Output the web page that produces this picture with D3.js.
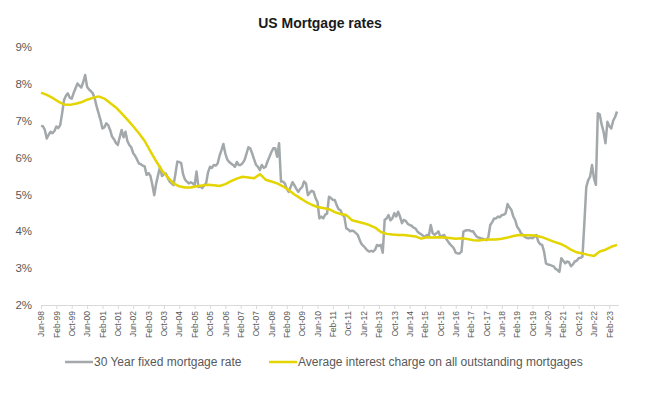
<!DOCTYPE html>
<html>
<head>
<meta charset="utf-8">
<script src="https://cdn.jsdelivr.net/npm/d3@7"></script>
<style>
  html, body { margin: 0; padding: 0; background: #fff; }
  svg { display: block; font-family: "Liberation Sans", Arial, sans-serif; }
</style>
</head>
<body>
<svg id="chart" width="650" height="396"></svg>
<script>
// ---- Data ----
const chartTitle = "US Mortgage rates";
const startMonth = new Date(1998, 5, 1);   // Jun-98
const endMonth = new Date(2023, 6, 1);     // exclusive (last = Jun-23)
const seriesNames = ["30 Year fixed mortgage rate", "Average interest charge on all outstanding mortgages"];
const yTicks = [2, 3, 4, 5, 6, 7, 8, 9];

// 30 Year fixed mortgage rate, monthly from Jun-98 (%)
const fixedRate = [
  6.86, 6.85, 6.75, 6.52, 6.62, 6.70, 6.66, 6.72, 6.84, 6.80,
  6.88, 7.20, 7.56, 7.68, 7.74, 7.62, 7.60, 7.75, 7.88, 8.01,
  7.95, 7.90, 8.05, 8.24, 7.92, 7.85, 7.80, 7.74, 7.60, 7.38,
  7.20, 7.02, 6.79, 6.82, 6.93, 6.88, 6.75, 6.57, 6.50, 6.40,
  6.34, 6.55, 6.75, 6.55, 6.70, 6.45, 6.34, 6.28, 6.12, 6.05,
  5.95, 5.84, 5.82, 5.78, 5.76, 5.53, 5.58, 5.50, 5.26, 4.98,
  5.30, 5.53, 5.75, 5.50, 5.55, 5.57, 5.45, 5.35, 5.30, 5.25,
  5.55, 5.89, 5.88, 5.85, 5.55, 5.40, 5.35, 5.30, 5.33, 5.30,
  5.25, 5.62, 5.20, 5.22, 5.17, 5.25, 5.30, 5.60, 5.75, 5.72,
  5.80, 5.78, 5.84, 6.05, 6.20, 6.37, 6.11, 5.95, 5.88, 5.84,
  5.80, 5.75, 5.88, 5.80, 5.80, 5.85, 5.93, 6.10, 6.28, 6.25,
  6.11, 5.95, 5.80, 5.75, 5.66, 5.80, 5.72, 5.75, 5.90, 6.02,
  6.15, 6.25, 6.25, 6.02, 6.39, 5.35, 5.35, 5.30, 5.15, 5.07,
  5.20, 5.33, 5.25, 5.15, 5.07, 5.15, 5.20, 5.35, 5.30, 4.98,
  5.05, 5.10, 5.07, 4.90, 4.80, 4.35, 4.40, 4.35, 4.45, 4.48,
  4.94, 4.90, 4.85, 4.85, 4.71, 4.60, 4.57, 4.45, 4.39, 4.08,
  4.05, 4.00, 4.02, 4.00, 3.95, 3.90, 3.76, 3.65, 3.60, 3.54,
  3.48, 3.45, 3.47, 3.45, 3.50, 3.63, 3.60, 3.63, 3.42, 4.31,
  4.35, 4.44, 4.30, 4.35, 4.49, 4.40, 4.53, 4.40, 4.22, 4.31,
  4.28, 4.20, 4.17, 4.15, 4.10, 4.08, 4.00, 3.95, 3.92, 3.88,
  3.85, 3.90, 3.88, 4.17, 3.95, 3.90, 3.95, 4.00, 3.85, 3.88,
  3.90, 3.80, 3.72, 3.65, 3.60, 3.54, 3.42, 3.40, 3.40, 3.45,
  3.99, 4.02, 4.03, 4.03, 4.00, 4.00, 3.92, 3.85, 3.83, 3.81,
  3.80, 3.78, 3.76, 3.85, 4.17, 4.25, 4.35, 4.35, 4.40, 4.38,
  4.44, 4.45, 4.49, 4.74, 4.65, 4.58, 4.40, 4.30, 4.12, 4.05,
  3.95, 3.90, 3.85, 3.82, 3.81, 3.83, 3.81, 3.85, 3.90, 3.72,
  3.65, 3.63, 3.45, 3.13, 3.10, 3.09, 3.07, 3.05, 2.98, 2.95,
  2.90, 3.27, 3.20, 3.13, 3.18, 3.16, 3.05, 3.10, 3.18, 3.20,
  3.27, 3.28, 3.31, 4.22, 5.20, 5.39, 5.48, 5.80, 5.44, 5.26,
  7.20, 7.17, 6.90, 6.70, 6.39, 6.97, 6.85, 6.79, 7.00, 7.10,
  7.25
];

// Average interest charge on all outstanding mortgages, quarterly from Jun-98 (%)
const avgCharge = [
  7.76, 7.70, 7.62, 7.52, 7.44, 7.43, 7.46, 7.50, 7.57, 7.62,
  7.66, 7.60, 7.48, 7.36, 7.20, 7.03, 6.85, 6.66, 6.45, 6.17,
  5.90, 5.65, 5.47, 5.30, 5.22, 5.19, 5.19, 5.22, 5.24, 5.26,
  5.25, 5.23, 5.28, 5.36, 5.43, 5.48, 5.46, 5.44, 5.55, 5.40,
  5.35, 5.30, 5.22, 5.12, 5.00, 4.90, 4.80, 4.72, 4.66, 4.63,
  4.60, 4.52, 4.47, 4.44, 4.30, 4.26, 4.22, 4.17, 4.10, 3.98,
  3.93, 3.91, 3.90, 3.90, 3.88, 3.86, 3.80, 3.84, 3.83, 3.84,
  3.83, 3.82, 3.80, 3.81, 3.79, 3.76, 3.75, 3.77, 3.78, 3.78,
  3.80, 3.83, 3.87, 3.90, 3.89, 3.89, 3.88, 3.84, 3.78, 3.72,
  3.67, 3.60, 3.50, 3.43, 3.40, 3.36, 3.33, 3.45, 3.50, 3.58,
  3.63
];

// ---- Build ----
const fmt = d3.timeFormat("%b-%y");
const categories = d3.timeMonth.range(startMonth, endMonth).map(fmt);
const tickEvery = 8;
const tickLabels = categories.filter((d, i) => i % tickEvery === 0);

const svg = d3.select("#chart");
const W = 650, H = 396;
const margin = { left: 41, right: 33, top: 47, bottom: 91 };

const x = d3.scalePoint().domain(categories).range([margin.left, W - margin.right]);
const y = d3.scaleLinear().domain([2, 9]).range([H - margin.bottom, margin.top]);

// Title
svg.append("text")
  .attr("x", 320).attr("y", 28)
  .attr("text-anchor", "middle")
  .attr("font-size", 14).attr("font-weight", "bold")
  .attr("fill", "#1a1a1a")
  .text(chartTitle);

// Y axis (labels only)
const yAxis = d3.axisLeft(y).tickValues(yTicks).tickFormat(d => d + "%").tickSize(0).tickPadding(0);
const gy = svg.append("g").attr("transform", `translate(${margin.left - 9},0)`).call(yAxis);
gy.select(".domain").remove();
gy.selectAll("text").attr("font-size", 11.5).attr("fill", "#595959")
  .attr("font-family", "Liberation Sans, Arial, sans-serif");

// X axis
const xAxis = d3.axisBottom(x).tickValues(tickLabels).tickSize(4).tickSizeOuter(0).tickPadding(3);
const gx = svg.append("g").attr("transform", `translate(0,${y(2)})`).call(xAxis);
gx.select(".domain").attr("stroke", "#d9d9d9").attr("stroke-width", 1)
  .attr("d", `M${margin.left},0.5H${W - margin.right + 2}`);
gx.selectAll(".tick line").attr("stroke", "#d9d9d9");
gx.selectAll("text")
  .attr("font-size", 8.5).attr("fill", "#595959")
  .attr("font-family", "Liberation Sans, Arial, sans-serif")
  .attr("text-anchor", "end")
  .attr("transform", "rotate(-90)")
  .attr("x", -6).attr("y", 0).attr("dy", "0.32em");

// Lines
const grayCol = "#a3a8ab";
const yellowCol = "#e4d400";

const fixedLine = d3.line()
  .x((d, i) => x(categories[i]))
  .y(d => y(d));
svg.append("path")
  .datum(fixedRate)
  .attr("fill", "none")
  .attr("stroke", grayCol)
  .attr("stroke-width", 2.5)
  .attr("stroke-linejoin", "round")
  .attr("d", fixedLine);

const avgLine = d3.line()
  .x((d, i) => x(categories[Math.min(i * 3, categories.length - 1)]))
  .y(d => y(d));
svg.append("path")
  .datum(avgCharge)
  .attr("fill", "none")
  .attr("stroke", yellowCol)
  .attr("stroke-width", 2.5)
  .attr("stroke-linejoin", "round")
  .attr("d", avgLine);

// Legend
const legendItems = [
  { name: seriesNames[0], color: grayCol, x: 65 },
  { name: seriesNames[1], color: yellowCol, x: 269 }
];
const lg = svg.append("g");
legendItems.forEach(it => {
  lg.append("line")
    .attr("x1", it.x).attr("x2", it.x + 28)
    .attr("y1", 362).attr("y2", 362)
    .attr("stroke", it.color).attr("stroke-width", 2.5);
  lg.append("text")
    .attr("x", it.x + 29).attr("y", 366)
    .attr("font-size", 12).attr("fill", "#595959")
    .text(it.name);
});
</script>
</body>
</html>
